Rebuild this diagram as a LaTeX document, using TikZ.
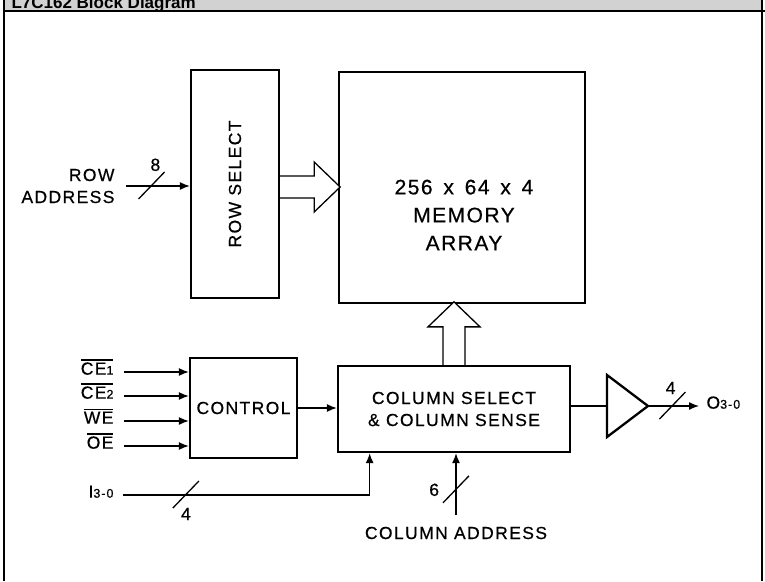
\documentclass[tikz,border=0pt]{standalone}
\usepackage{fontspec}
\setmainfont{Liberation Sans}
\usetikzlibrary{calc,arrows.meta,positioning}
\newcommand{\lbl}{\fontsize{17.5}{22}\selectfont\addfontfeature{LetterSpace=8,FakeBold=0.6}}
\newcommand{\barsig}[1]{\vbox{\hrule height 1.2pt\kern1.8pt\hbox{#1}}}
\newcommand{\idx}[1]{{\fontsize{12.5}{13}\selectfont #1}}

\begin{document}
\begin{tikzpicture}[x=1pt,y=-1pt,>={Latex[length=10pt,width=8pt]},font=\lbl,
     blk/.style={draw,line width=2.3pt,inner sep=0pt},
     wire/.style={line width=1.3pt},
     hollow/.style={draw,line width=1.3pt,fill=white,line join=miter},
     pics/slash/.style={code={\draw[-,line width=1.3pt] (-13,13) -- (13,-14);}}]
    \useasboundingbox (0,0) rectangle (765,581);
    % frame and cut-off title strip
    \fill[gray!35] (4,0) rectangle (762,10);
    \begin{scope}
      \clip (4,0) rectangle (762,9.5);
      \node[anchor=base west,font=\fontsize{17}{20}\selectfont\bfseries] (title) at (8,8) {L7C162 Block Diagram};
    \end{scope}
    \draw[line width=2.6pt] (3,11) -- (765,11);
    \draw[line width=2pt] (4,0) -- (4,581);
    \draw[line width=1.5pt] (762,0) -- (762,581);

    \node[blk,minimum width=88pt,minimum height=228pt] (rowsel) at (235,184) {};
    \node[rotate=90] (rowtxt) at (rowsel) {ROW SELECT};
    \node[blk,minimum width=246pt,minimum height=231pt] (mem) at (462,187.5) {};
    \node[align=center,font=\fontsize{21}{28}\selectfont\addfontfeature{LetterSpace=7,FakeBold=0.6}] (memtxt) at (464,215) {256\ \,x\ \,64\ \,x\ \,4\\MEMORY\\ARRAY};
    \node[blk,minimum width=107pt,minimum height=100pt] (ctrl) at (243.5,408) {CONTROL};
    \node[blk,minimum width=232pt,minimum height=86pt,align=center] (colsel) at (454,409) {COLUMN SELECT\\\& COLUMN SENSE};

    % row address
    \node[align=right,anchor=east] (rowaddr) at (118,186) {ROW\\ADDRESS};
    \draw[wire,->] ([xshift=8pt]rowaddr.east) -- pic[pos=0.4]{slash} node[pos=0.4,above right=11pt and -5pt] (n8) {8} (rowsel.west |- rowaddr.east);

    % control inputs
    \foreach \n/\y/\s in {ce1/372/{\barsig{CE\idx{1}}},ce2/396/{\barsig{CE\idx{2}}},we/421/{\barsig{WE}},oe/446/{\barsig{OE}}}{
      \node[anchor=mid east] (\n) at (117,\y) {\s};
      \draw[wire,->] ([xshift=7pt]\n.mid east) -- (ctrl.west |- \n.mid east);
    }
    \draw[wire,->] (ctrl.east) -- (colsel.west |- ctrl.east);

    % data in
    \node[anchor=mid east] (din) at (117,495) {I\idx{3-0}};
    \coordinate (colin) at ($(colsel.south west)!0.14!(colsel.south east)$);
    \draw[wire,->] ([xshift=6pt]din.mid east) -- pic[pos=0.255]{slash} node[pos=0.255,below=9pt] (n4a) {4} (din.mid east -| colin) -- (colin);

    % column address
    \node (coladdr) at (456,533) {COLUMN ADDRESS};
    \draw[wire,->] ([yshift=8pt]coladdr.north) -- pic[pos=0.41]{slash} node[pos=0.41,left=13pt] (n6) {6} (coladdr.north |- colsel.south);

    % wide data paths
    \draw[hollow] ($(rowsel.east)+(0,-8)$) -- ++(34,0) -- ++(0,-14) -- ++(26,25) -- ++(-26,25) -- ++(0,-14) -- ++(-34,0);
    \draw[hollow] ($(colsel.north)+(-11,0)$) -- ++(0,-38) -- ++(-15,0) -- ++(26,-25) -- ++(26,25) -- ++(-15,0) -- ++(0,38);

    % output buffer
    \coordinate (bufin) at (607,406);
    \coordinate (bufout) at (648,406);
    \draw[line width=2.3pt,line join=miter] (607,375) -- (bufout) -- (607,437) -- cycle;
    \draw[wire] (colsel.east |- bufin) -- (bufin);
    \node[anchor=mid west] (dout) at (703,406) {O\idx{3-0}};
    \draw[wire,->] (bufout) -- pic[pos=0.48]{slash} node[pos=0.48,above left=8pt and -7pt] (n4b) {4} ([xshift=-4pt]dout.mid west);
\end{tikzpicture}
\end{document}
